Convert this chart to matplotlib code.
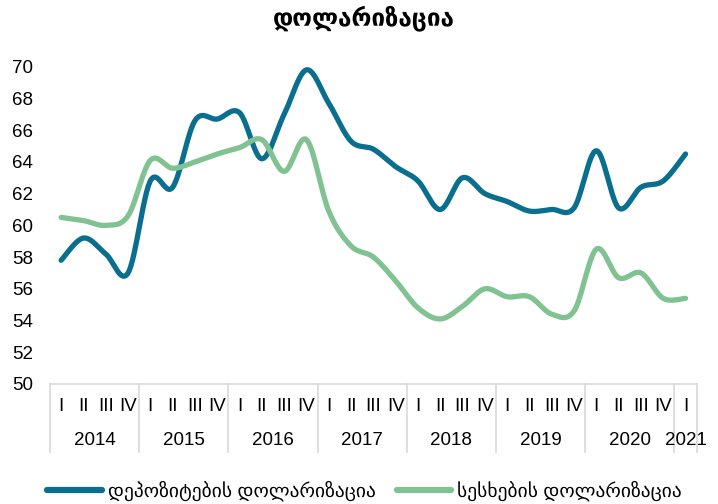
import numpy as np
import matplotlib
matplotlib.use("Agg")
import matplotlib.pyplot as plt
from matplotlib.lines import Line2D
import matplotlib.transforms as mtransforms

plt.rcParams['font.family'] = ['Liberation Sans', 'DejaVu Sans']

title = "დოლარიზაცია"
series_names = ["დეპოზიტების დოლარიზაცია", "სესხების დოლარიზაცია"]
years = ["2014", "2015", "2016", "2017", "2018", "2019", "2020", "2021"]
quarters = ["I", "II", "III", "IV"]
quarters_per_year = [4, 4, 4, 4, 4, 4, 4, 1]

deposits = [57.8, 59.2, 58.2, 57.0, 62.8, 62.4, 66.6, 66.7, 67.1, 64.2,
            67.0, 69.8, 67.7, 65.3, 64.8, 63.7, 62.8, 61.0, 63.0, 62.0,
            61.5, 60.9, 61.0, 61.1, 64.7, 61.1, 62.4, 62.8, 64.5]
loans = [60.5, 60.3, 60.0, 60.6, 64.1, 63.6, 64.0, 64.5, 64.9, 65.4,
         63.4, 65.4, 60.9, 58.7, 58.0, 56.5, 54.8, 54.1, 54.9, 56.0,
         55.5, 55.5, 54.4, 54.6, 58.5, 56.7, 57.0, 55.4, 55.4]

colors = ["#0A6F8F", "#81C293"]


def smooth(x, y, n=30):
    x = np.asarray(x, float)
    y = np.asarray(y, float)
    P = np.column_stack([x, y])
    pts = []
    m = len(P)
    for i in range(m - 1):
        p0 = P[i - 1] if i > 0 else P[i]
        p1 = P[i]
        p2 = P[i + 1]
        p3 = P[i + 2] if i + 2 < m else P[i + 1]
        c1 = p1 + (p2 - p0) / 6.0
        c2 = p2 - (p3 - p1) / 6.0
        t = np.linspace(0, 1, n, endpoint=(i == m - 2))[:, None]
        seg = ((1 - t) ** 3) * p1 + 3 * ((1 - t) ** 2) * t * c1 + 3 * (1 - t) * t ** 2 * c2 + t ** 3 * p2
        pts.append(seg)
    pts = np.vstack(pts)
    return pts[:, 0], pts[:, 1]


fig = plt.figure(figsize=(7.18, 5.04), dpi=100)
W, H = 718, 504
left, right, top, bottom = 50, 696.7, 66.7, 384
ax = fig.add_axes([left / W, 1 - bottom / H, (right - left) / W, (bottom - top) / H])

n = len(deposits)
xs = np.arange(n) + 0.5
for vals, c in zip([deposits, loans], colors):
    sx, sy = smooth(xs, vals)
    ax.plot(sx, sy, color=c, lw=3.8, solid_capstyle='round', solid_joinstyle='round')

ax.set_xlim(0, n)
ax.set_ylim(50, 70)
ax.set_yticks(np.arange(50, 71, 2))
ax.tick_params(axis='y', length=0, pad=12, labelsize=13.5, colors='#000000')
ax.set_xticks([])
for s in ['top', 'right', 'left']:
    ax.spines[s].set_visible(False)
ax.spines['bottom'].set_color('#D9D9D9')
ax.spines['bottom'].set_linewidth(1.2)

trans = mtransforms.blended_transform_factory(ax.transData, ax.transAxes)
axh = bottom - top
sep_y = -(451.7 - bottom) / axh
q_y = -(406.7 - bottom) / axh
y_y = -(441 - bottom) / axh

pos = 0
bounds = [0]
for yr, nq in zip(years, quarters_per_year):
    for q in range(nq):
        ax.text(pos + q + 0.5, q_y, quarters[q], transform=trans, ha='center', va='center',
                fontsize=13.5)
    ax.text(pos + nq / 2, y_y, yr, transform=trans, ha='center', va='center', fontsize=13.5)
    pos += nq
    bounds.append(pos)
for b in bounds:
    ax.plot([b, b], [0, sep_y], transform=trans, color='#D9D9D9', lw=1.2, clip_on=False)

fig.text(0.507, 1 - 18 / H, title, ha='center', va='center', fontsize=17.5, fontweight='bold')

handles = [Line2D([], [], color=c, lw=4.5, solid_capstyle='round') for c in colors]
fig.legend(handles, series_names, loc='center', bbox_to_anchor=(0.508, 1 - 491 / H), ncol=2,
           frameon=False, fontsize=14, handlelength=2.8, handletextpad=0.3, columnspacing=1.1,
           borderaxespad=0)

fig.savefig("out.png", dpi=100)
